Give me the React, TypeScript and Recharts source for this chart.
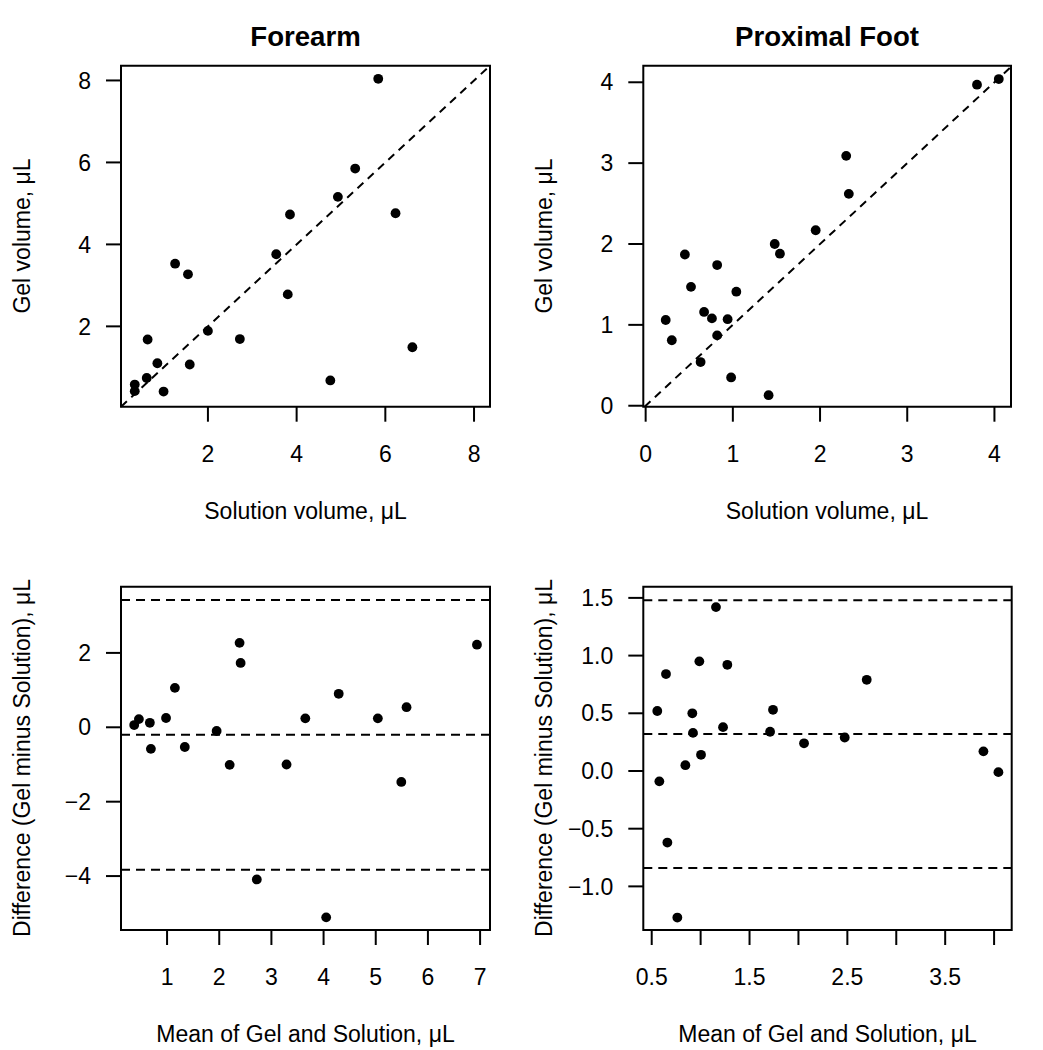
import React from 'react';
import { ScatterChart, Scatter, XAxis, YAxis, ReferenceLine, ReferenceArea } from 'recharts';

// ---- Data ----
const forearmSolution = [5.84, 5.32, 4.93, 3.85, 6.23, 3.54, 3.8, 1.26, 1.55, 2.0, 2.72, 0.64, 6.61, 0.86, 1.59, 0.62, 4.76, 0.35, 0.35, 1.0];
const forearmGel = [8.04, 5.85, 5.16, 4.73, 4.76, 3.76, 2.78, 3.53, 3.27, 1.89, 1.69, 1.68, 1.49, 1.1, 1.07, 0.74, 0.68, 0.58, 0.42, 0.41];

const footSolution = [4.05, 3.8, 2.3, 2.33, 1.95, 1.48, 1.54, 0.45, 0.82, 0.52, 1.04, 0.67, 0.76, 0.94, 0.23, 0.82, 0.3, 0.63, 0.98, 1.41];
const footGel = [4.04, 3.97, 3.09, 2.62, 2.17, 2.0, 1.88, 1.87, 1.74, 1.47, 1.41, 1.16, 1.08, 1.07, 1.06, 0.87, 0.81, 0.54, 0.35, 0.13];

const forearmMean = [2.39, 6.94, 2.41, 1.15, 4.29, 5.59, 0.37, 0.46, 0.67, 0.98, 3.65, 5.04, 1.95, 0.69, 1.34, 2.2, 3.29, 5.49, 2.72, 4.05];
const forearmDiff = [2.27, 2.22, 1.73, 1.06, 0.9, 0.54, 0.06, 0.22, 0.12, 0.25, 0.24, 0.24, -0.1, -0.58, -0.53, -1.01, -1.0, -1.47, -4.09, -5.11];

const footMean = [1.157, 0.987, 1.273, 0.646, 2.698, 0.557, 1.74, 0.915, 1.229, 1.71, 0.922, 2.473, 2.057, 3.891, 1.004, 0.844, 4.044, 0.578, 0.66, 0.762];
const footDiff = [1.42, 0.95, 0.92, 0.84, 0.79, 0.52, 0.53, 0.5, 0.38, 0.34, 0.33, 0.29, 0.24, 0.17, 0.14, 0.05, -0.01, -0.09, -0.62, -1.27];

const forearmLimits = [3.42, -0.2, -3.83];
const footLimits = [1.48, 0.32, -0.84];

const forearmTicks = [2, 4, 6, 8];
const footTicks = [0, 1, 2, 3, 4];
const forearmMeanTicks = [1, 2, 3, 4, 5, 6, 7];
const forearmDiffTicks = [-4, -2, 0, 2];
const footMeanTicks = [0.5, 1, 1.5, 2, 2.5, 3, 3.5, 4];
const footMeanLabelled = [0.5, 1.5, 2.5, 3.5];
const footDiffTicks = [-1, -0.5, 0, 0.5, 1, 1.5];

const titles = ['Forearm', 'Proximal Foot'];
const xLabelTop = 'Solution volume, \u03bcL';
const yLabelTop = 'Gel volume, \u03bcL';
const xLabelBottom = 'Mean of Gel and Solution, \u03bcL';
const yLabelBottom = 'Difference (Gel minus Solution), \u03bcL';

const FONT = '"Liberation Sans", Arial, Helvetica, sans-serif';

const minus = (s: string) => s.replace('-', '\u2212');
const intFmt = (v: number) => minus(String(v));
const oneDec = (v: number) => minus(v.toFixed(1));
const footMeanFmt = (v: number) => (footMeanLabelled.includes(v) ? v.toFixed(1) : '');

const zip = (xs: number[], ys: number[]) => xs.map((x, i) => ({ x, y: ys[i] }));

const Dot = (props: any) => {
  const { cx, cy } = props;
  if (cx == null || cy == null) return null;
  return <circle cx={cx} cy={cy} r={4.9} fill="#000" />;
};

type PanelProps = {
  left: number; top: number; width: number; height: number;
  marginTop: number; marginRight: number; yAxisWidth: number; xAxisHeight: number;
  xDomain: [number, number]; yDomain: [number, number];
  xTicks: number[]; yTicks: number[];
  xFmt: (v: number) => string; yFmt: (v: number) => string;
  data: { x: number; y: number }[];
  hLines?: number[];
  diag?: [number, number];
};

const tickStyle = { fill: '#000', fontSize: 23, fontFamily: FONT };
const tickLineStyle = { stroke: '#000', strokeWidth: 2 };

function Panel(p: PanelProps) {
  return (
    <div style={{ position: 'absolute', left: p.left, top: p.top, width: p.width, height: p.height }}>
      <ScatterChart
        width={p.width}
        height={p.height}
        margin={{ top: p.marginTop, right: p.marginRight, bottom: 0, left: 0 }}
      >
        <XAxis
          type="number"
          dataKey="x"
          domain={p.xDomain}
          allowDataOverflow
          ticks={p.xTicks}
          interval={0}
          tickFormatter={p.xFmt}
          height={p.xAxisHeight}
          axisLine={false}
          tickLine={tickLineStyle}
          tickSize={15}
          tickMargin={23.5}
          tick={tickStyle}
        />
        <YAxis
          type="number"
          dataKey="y"
          domain={p.yDomain}
          allowDataOverflow
          ticks={p.yTicks}
          interval={0}
          tickFormatter={p.yFmt}
          width={p.yAxisWidth}
          axisLine={false}
          tickLine={tickLineStyle}
          tickSize={15}
          tickMargin={15}
          tick={tickStyle}
        />
        <ReferenceArea
          x1={p.xDomain[0]}
          x2={p.xDomain[1]}
          y1={p.yDomain[0]}
          y2={p.yDomain[1]}
          fill="none"
          fillOpacity={0}
          stroke="#000"
          strokeWidth={2}
          ifOverflow="visible"
        />
        {p.diag && (
          <ReferenceLine
            segment={[{ x: p.diag[0], y: p.diag[0] }, { x: p.diag[1], y: p.diag[1] }]}
            stroke="#000"
            strokeWidth={2}
            strokeDasharray="8 6"
            ifOverflow="visible"
          />
        )}
        {(p.hLines || []).map((v, i) => (
          <ReferenceLine key={i} y={v} stroke="#000" strokeWidth={2} strokeDasharray="9 6" />
        ))}
        <Scatter data={p.data} isAnimationActive={false} fill="#000" shape={Dot} />
      </ScatterChart>
    </div>
  );
}

export default function App() {
  const textStyle = { fontFamily: FONT, fill: '#000' } as const;
  return (
    <div style={{ position: 'absolute', left: 0, top: 0, width: 1043, height: 1050, background: '#fff' }}>
      <Panel
        left={0} top={0} width={520} height={545}
        marginTop={65.7} marginRight={30} yAxisWidth={121} xAxisHeight={138.3}
        xDomain={[0.04, 8.36]} yDomain={[0.04, 8.36]}
        xTicks={forearmTicks} yTicks={forearmTicks}
        xFmt={intFmt} yFmt={intFmt}
        data={zip(forearmSolution, forearmGel)}
        diag={[0.04, 8.36]}
      />
      <Panel
        left={520} top={0} width={523} height={545}
        marginTop={65.7} marginRight={32} yAxisWidth={123.3} xAxisHeight={138.3}
        xDomain={[-0.027, 4.19]} yDomain={[-0.012, 4.205]}
        xTicks={footTicks} yTicks={footTicks}
        xFmt={intFmt} yFmt={intFmt}
        data={zip(footSolution, footGel)}
        diag={[-0.012, 4.19]}
      />
      <Panel
        left={0} top={545} width={520} height={505}
        marginTop={41.7} marginRight={30} yAxisWidth={121} xAxisHeight={120}
        xDomain={[0.117, 7.19]} yDomain={[-5.45, 3.78]}
        xTicks={forearmMeanTicks} yTicks={forearmDiffTicks}
        xFmt={intFmt} yFmt={intFmt}
        data={zip(forearmMean, forearmDiff)}
        hLines={forearmLimits}
      />
      <Panel
        left={520} top={545} width={523} height={505}
        marginTop={41.7} marginRight={31.3} yAxisWidth={123.3} xAxisHeight={120}
        xDomain={[0.414, 4.18]} yDomain={[-1.378, 1.597]}
        xTicks={footMeanTicks} yTicks={footDiffTicks}
        xFmt={footMeanFmt} yFmt={oneDec}
        data={zip(footMean, footDiff)}
        hLines={footLimits}
      />
      <svg
        width={1043}
        height={1050}
        style={{ position: 'absolute', left: 0, top: 0, pointerEvents: 'none' }}
      >
        <text x={305.5} y={45.5} textAnchor="middle" fontSize={27.6} fontWeight="bold" style={textStyle}>{titles[0]}</text>
        <text x={827} y={45.5} textAnchor="middle" fontSize={27.6} fontWeight="bold" style={textStyle}>{titles[1]}</text>
        <text x={305.5} y={518.5} textAnchor="middle" fontSize={23} style={textStyle}>{xLabelTop}</text>
        <text x={827} y={518.5} textAnchor="middle" fontSize={23} style={textStyle}>{xLabelTop}</text>
        <text x={305.5} y={1042} textAnchor="middle" fontSize={23} style={textStyle}>{xLabelBottom}</text>
        <text x={827.5} y={1042} textAnchor="middle" fontSize={23} style={textStyle}>{xLabelBottom}</text>
        <text transform="translate(30,236) rotate(-90)" textAnchor="middle" fontSize={23} style={textStyle}>{yLabelTop}</text>
        <text transform="translate(552,236) rotate(-90)" textAnchor="middle" fontSize={23} style={textStyle}>{yLabelTop}</text>
        <text transform="translate(30,758) rotate(-90)" textAnchor="middle" fontSize={23} style={textStyle}>{yLabelBottom}</text>
        <text transform="translate(552,758) rotate(-90)" textAnchor="middle" fontSize={23} style={textStyle}>{yLabelBottom}</text>
      </svg>
    </div>
  );
}
